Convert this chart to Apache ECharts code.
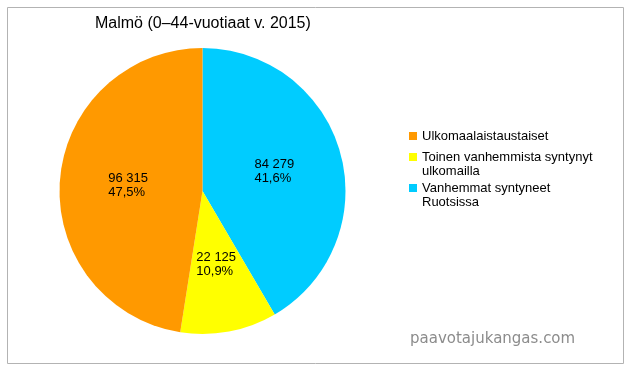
<!DOCTYPE html>
<html>
<head>
<meta charset="utf-8">
<script src="https://cdn.jsdelivr.net/npm/echarts@6/dist/echarts.min.js"></script>
<style>
html,body{margin:0;padding:0;background:#fff;}
#chart{width:634px;height:372px;}
</style>
</head>
<body>
<div id="chart"></div>
<script>
// Data (clockwise from 12 o'clock)
const categories = ['Vanhemmat syntyneet Ruotsissa', 'Toinen vanhemmista syntynyt ulkomailla', 'Ulkomaalaistaustaiset'];
const values = [84279, 22125, 96315];
const colors = ['#00ccff', '#ffff00', '#ff9900'];
// Legend order and wrapped legend texts
const legendOrder = ['Ulkomaalaistaustaiset', 'Toinen vanhemmista syntynyt ulkomailla', 'Vanhemmat syntyneet Ruotsissa'];
const legendTexts = ['Ulkomaalaistaustaiset', 'Toinen vanhemmista syntynyt\nulkomailla', 'Vanhemmat syntyneet\nRuotsissa'];
const titleText = 'Malmö (0–44-vuotiaat v. 2015)';
const watermark = 'paavotajukangas.com';

const FONT = 'Liberation Sans';
function fmtNum(v) {
  return String(v).replace(/\B(?=(\d{3})+(?!\d))/g, ' ');
}
const iconSingle = 'path://M0,7h8v8h-8Z M0,0L0,0 M0,22L0,22';
const iconDouble = 'path://M0,0h8v8h-8Z M0,22L0,22';

const chart = echarts.init(document.getElementById('chart'), null, {renderer: 'canvas'});
chart.setOption({
  animation: false,
  backgroundColor: '#fff',
  title: [
    {
      text: titleText, left: 95, top: 16, padding: 0,
      textStyle: {fontFamily: FONT, fontSize: 16, fontWeight: 'normal', color: '#000'}
    },
    {
      text: watermark, left: 410, top: 332, padding: 0,
      textStyle: {fontFamily: 'DejaVu Sans', fontSize: 15, fontWeight: 'normal', color: '#8c8c8c'}
    }
  ],
  graphic: [{
    type: 'rect', silent: true,
    shape: {x: 7.5, y: 7.5, width: 616, height: 356},
    style: {fill: 'none', stroke: '#b3b3b3', lineWidth: 1}
  }],
  legend: {
    orient: 'vertical', left: 409, top: 125, padding: 0,
    itemWidth: 8, itemHeight: 22, itemGap: 3,
    selectedMode: false,
    itemStyle: {borderWidth: 0},
    data: legendOrder.map((n, i) => ({
      name: n,
      icon: legendTexts[i].indexOf('\n') >= 0 ? iconDouble : iconSingle
    })),
    formatter: name => legendTexts[legendOrder.indexOf(name)],
    textStyle: {fontFamily: FONT, fontSize: 13, lineHeight: 14, color: '#000'}
  },
  series: [{
    type: 'pie',
    center: [202.5, 191],
    radius: 143,
    startAngle: 90,
    clockwise: true,
    percentPrecision: 1,
    silent: true,
    itemStyle: {borderWidth: 0},
    label: {
      position: 'inside',
      formatter: p => '{a|' + fmtNum(p.value) + '}\n{a|' + p.percent.toFixed(1).replace('.', ',') + '%}',
      rich: {
        a: {width: 40, align: 'left', fontFamily: FONT, fontSize: 13, lineHeight: 14, color: '#000'}
      }
    },
    labelLine: {show: false},
    data: categories.map((c, i) => ({name: c, value: values[i], itemStyle: {color: colors[i]}}))
  }]
});
</script>
</body>
</html>
